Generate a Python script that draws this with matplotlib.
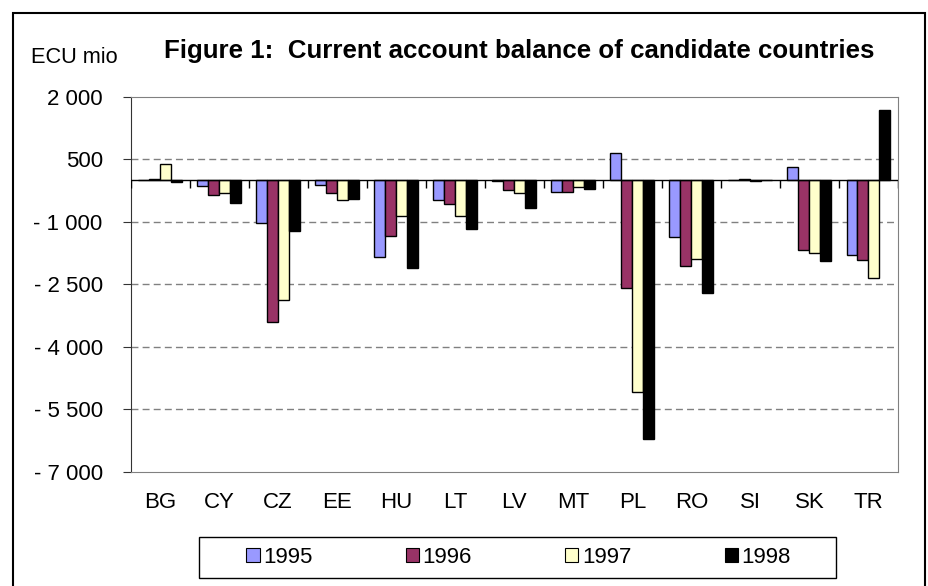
import numpy as np
import matplotlib.pyplot as plt
from matplotlib.patches import Rectangle, Patch

plt.rcParams['font.family'] = ['Liberation Sans', 'DejaVu Sans']

countries = ['BG', 'CY', 'CZ', 'EE', 'HU', 'LT', 'LV', 'MT', 'PL', 'RO', 'SI', 'SK', 'TR']
years = ['1995', '1996', '1997', '1998']

v1995 = [0, -150, -1030, -105, -1840, -475, -10, -275, 660, -1370, 15, 320, -1800]
v1996 = [30, -360, -3400, -315, -1330, -565, -225, -275, -2600, -2055, 30, -1670, -1925]
v1997 = [385, -315, -2870, -480, -870, -870, -315, -170, -5090, -1885, -20, -1750, -2355]
v1998 = [-50, -550, -1220, -450, -2110, -1180, -670, -200, -6210, -2700, 0, -1935, 1690]

colors = ['#9999FF', '#993366', '#FFFFCC', '#000000']
yticks = [2000, 500, -1000, -2500, -4000, -5500, -7000]


def fmt(v):
    s = '{:,}'.format(abs(v)).replace(',', ' ')
    return '- ' + s if v < 0 else s


W, H = 929, 586
fig = plt.figure(figsize=(W / 100, H / 100), dpi=100)
ax = fig.add_axes([130.5 / W, 1 - 471.5 / H, (898 - 130.5) / W, (471.5 - 97) / H])

x = np.arange(len(countries))
bw = 0.186
series = [v1995, v1996, v1997, v1998]
for i, vals in enumerate(series):
    ax.bar(x + (i - 1.5) * bw, vals, bw, color=colors[i], edgecolor='black',
           linewidth=1.0, label=years[i], zorder=2)

ax.set_xlim(-0.5, len(countries) - 0.5)
ax.set_ylim(-7000, 2000)
ax.set_yticks(yticks)
ax.set_yticklabels([fmt(v) for v in yticks])
ax.set_xticks(x)
ax.set_xticklabels(countries)

for v in yticks[1:-1]:
    ax.axhline(v, color='#808080', lw=1.0, dashes=(5, 3), zorder=1)
ax.axhline(0, color='black', lw=1.0, zorder=3)
# category boundary ticks on the zero line
ax.vlines(np.arange(len(countries) + 1) - 0.5, -190, 0, color='black', lw=1.0, zorder=3)

ax.tick_params(axis='y', length=6, pad=14, labelsize=16, color='#333333')
ax.tick_params(axis='x', length=0, pad=14.5, labelsize=16)
for s in ['top', 'right', 'bottom']:
    ax.spines[s].set_color('#808080')
ax.spines['left'].set_color('#333333')

fig.text(519.5 / W, 1 - 58 / H, 'Figure 1:  Current account balance of candidate countries',
         ha='center', va='baseline', fontsize=18.6, fontweight='bold')
fig.text(31 / W, 1 - 63 / H, 'ECU mio', ha='left', va='baseline', fontsize=15.7)

# outer frame
fig.patches.append(Rectangle((13 / W, -0.02), (925 - 13) / W, 1.02 - 13 / H,
                             transform=fig.transFigure, fill=False, edgecolor='black', lw=1.5))
# legend box
fig.patches.append(Rectangle((199 / W, 1 - 578 / H), (836 - 199) / W, 41 / H,
                             transform=fig.transFigure, fill=False, edgecolor='black', lw=1.0))
handles = [Patch(facecolor=c, edgecolor='black', lw=0.8) for c in colors]
fig.legend(handles, years, loc='center', bbox_to_anchor=(518.5 / W, 1 - 557.5 / H), ncol=4,
           frameon=False, fontsize=16, handlelength=0.6, handleheight=0.6,
           handletextpad=0.15, columnspacing=4.2)

fig.savefig('out.png', dpi=100)
